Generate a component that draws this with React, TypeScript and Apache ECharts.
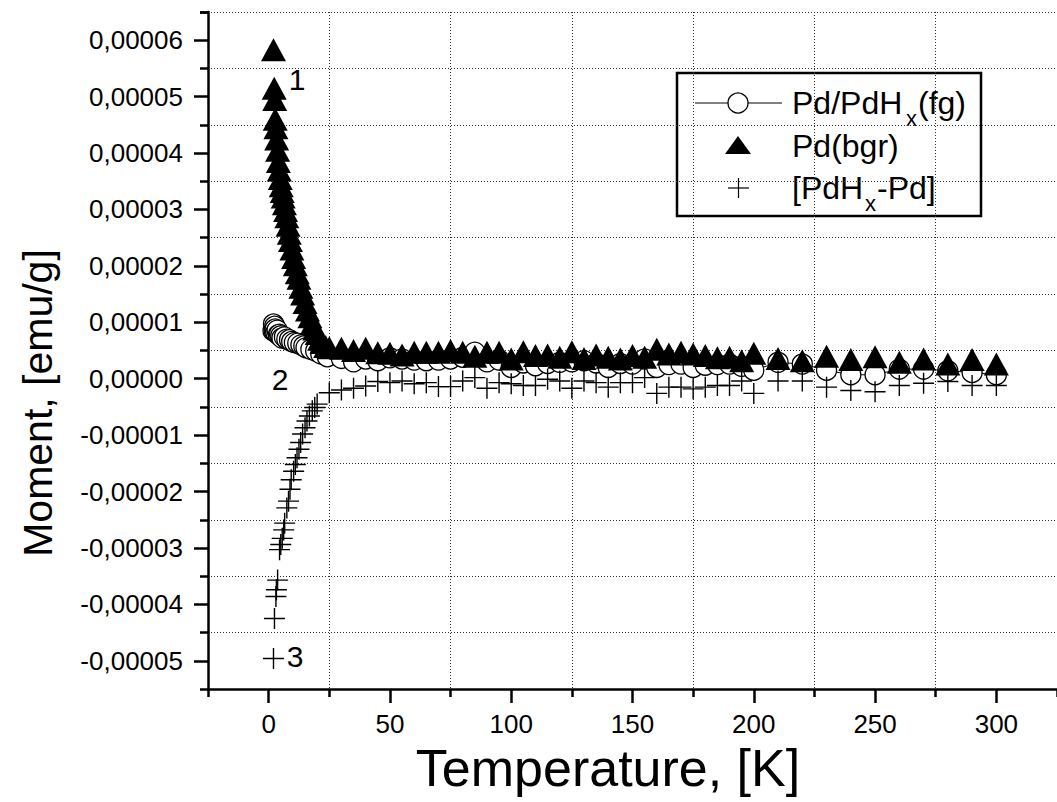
import React, { useEffect, useRef } from "react";
import * as echarts from "echarts";

const UNIT = 1e-5; // moment values below are given in units of 1e-5 emu/g
const FONT = "'Liberation Sans', Arial, sans-serif";

// Pd/PdHx(fg) — open circles with line
const fgT = [1.8, 2.0, 2.3, 2.5, 2.7, 3.0, 3.5, 4.0, 4.5, 5.0, 5.5, 6.5, 7.5, 8.6, 9.5, 10.6, 12.0, 13.3, 14.5, 15.4, 17.4, 19.4, 21.5, 24.2,
  30, 35, 40, 45, 50, 55, 60, 65, 70, 75, 80, 85, 90, 95, 100, 105, 110, 115, 120, 125, 130, 135, 140, 145, 150, 155, 160, 165, 170, 175, 180, 185, 190, 195, 200,
  210, 220, 230, 240, 250, 260, 270, 280, 290, 300];
const fgM = [0.85, 0.97, 0.85, 0.93, 0.88, 0.82, 0.86, 0.78, 0.79, 0.76, 0.72, 0.74, 0.70, 0.69, 0.66, 0.64, 0.63, 0.60, 0.58, 0.55, 0.52, 0.49, 0.44, 0.39,
  0.36, 0.30, 0.35, 0.32, 0.37, 0.35, 0.33, 0.32, 0.33, 0.35, 0.38, 0.47, 0.30, 0.33, 0.20, 0.28, 0.23, 0.27, 0.29, 0.30, 0.32, 0.28, 0.20, 0.27, 0.26, 0.35, 0.20, 0.25, 0.26, 0.20, 0.24, 0.25, 0.26, 0.22, 0.15,
  0.29, 0.26, 0.15, 0.07, 0.07, 0.17, 0.17, 0.14, 0.11, 0.07];

// Pd(bgr) — filled triangles
const bgrT = [2.0, 2.3, 2.5, 2.7, 3.0, 3.3, 3.7, 4.0, 4.4, 4.8, 5.2, 5.6, 6.0, 6.5, 7.0, 7.5, 8.0, 8.5, 9.0, 9.6, 10.3, 11.0, 11.8, 12.5, 13.3, 14.0, 15.0, 16.0, 17.0, 18.0, 19.0, 20.0, 21.0, 22.0, 23.5,
  25, 30, 35, 40, 45, 50, 55, 60, 65, 70, 75, 80, 85, 90, 95, 100, 105, 110, 115, 120, 125, 130, 135, 140, 145, 150, 155, 160, 165, 170, 175, 180, 185, 190, 195, 200,
  210, 220, 230, 240, 250, 260, 270, 280, 290, 300];
const bgrM = [5.83, 5.15, 4.95, 4.6, 4.45, 4.25, 4.05, 3.85, 3.7, 3.55, 3.42, 3.32, 3.22, 3.1, 2.98, 2.87, 2.72, 2.58, 2.45, 2.3, 2.15, 2.02, 1.88, 1.78, 1.62, 1.5, 1.35, 1.22, 1.1, 0.98, 0.88, 0.8, 0.7, 0.64, 0.57,
  0.55, 0.54, 0.50, 0.54, 0.46, 0.45, 0.42, 0.47, 0.47, 0.47, 0.50, 0.47, 0.40, 0.47, 0.47, 0.35, 0.48, 0.41, 0.42, 0.38, 0.48, 0.36, 0.42, 0.38, 0.35, 0.41, 0.38, 0.52, 0.44, 0.47, 0.44, 0.41, 0.37, 0.38, 0.32, 0.45,
  0.36, 0.32, 0.40, 0.34, 0.39, 0.29, 0.35, 0.26, 0.34, 0.26];

// [PdHx-Pd] — crosses
const diffT = [2.0, 2.4, 3.0, 3.2, 3.7, 4.5, 5.0, 5.6, 6.2, 6.6, 7.5, 8.2, 8.8, 9.3, 10.3, 11.0, 11.7, 12.5, 13.2, 14.0, 15.0, 15.8, 16.8, 18.0, 19.0, 20.0,
  25, 30, 35, 40, 45, 50, 55, 60, 65, 70, 75, 80, 85, 90, 95, 100, 105, 110, 115, 120, 125, 130, 135, 140, 145, 150, 155, 160, 165, 170, 175, 180, 185, 190, 195, 200,
  210, 220, 230, 240, 250, 260, 270, 280, 290, 300];
const diffM = [-4.96, -4.25, -3.86, -3.74, -3.57, -3.03, -2.94, -2.83, -2.68, -2.56, -2.29, -2.17, -1.96, -1.79, -1.64, -1.52, -1.40, -1.25, -1.13, -0.98, -0.87, -0.75, -0.66, -0.57, -0.51, -0.45,
  -0.25, -0.20, -0.17, -0.13, -0.05, -0.07, -0.04, -0.09, -0.07, -0.14, -0.14, -0.04, 0.02, -0.17, -0.07, -0.09, -0.12, -0.12, -0.01, -0.04, -0.17, -0.04, -0.07, -0.15, -0.07, -0.07, 0.02, -0.26, -0.15, -0.15, -0.18, -0.15, -0.12, -0.12, -0.04, -0.26,
  -0.04, -0.04, -0.15, -0.21, -0.23, -0.12, -0.08, -0.05, -0.12, -0.12];

const xLabelTicks = [0, 50, 100, 150, 200, 250, 300];
const yLabelTicks = [-5, -4, -3, -2, -1, 0, 1, 2, 3, 4, 5, 6];

const pairs = (xs: number[], ys: number[]) => xs.map((x, i) => [x, ys[i] * UNIT]);

export default function App() {
  const ref = useRef<HTMLDivElement>(null);
  useEffect(() => {
    if (!ref.current) return;
    const chart = echarts.init(ref.current, undefined, { renderer: "svg" });
    const axisLineStyle = { color: "#000", width: 2.5, opacity: 1 };
    const gridStyle = { color: "#333", width: 1, type: [1, 2] as any };
    const yMin = -5.5 * UNIT;
    const yMax = 6.5 * UNIT;
    chart.setOption({
      animation: false,
      backgroundColor: "#fff",
      grid: { left: 208, right: -9, top: 12, bottom: 113, containLabel: false },
      xAxis: [
        {
          type: "value", min: -25, max: 325, position: "bottom",
          axisLine: { show: true, onZero: false, lineStyle: axisLineStyle },
          axisTick: { show: true, customValues: xLabelTicks, length: 14, lineStyle: axisLineStyle },
          axisLabel: { customValues: xLabelTicks, margin: 22, fontSize: 26, color: "#000", fontFamily: FONT },
          splitLine: { show: false },
        },
        {
          type: "value", min: -25, max: 325, interval: 50, position: "bottom",
          axisLine: { show: false, onZero: false },
          axisTick: { show: true, length: 8, lineStyle: axisLineStyle },
          axisLabel: { show: false },
          splitLine: { show: true, showMinLine: false, showMaxLine: false, lineStyle: gridStyle },
        },
      ],
      yAxis: [
        {
          type: "value", min: yMin, max: yMax, position: "left",
          axisLine: { show: true, onZero: false, lineStyle: axisLineStyle },
          axisTick: { show: true, customValues: yLabelTicks.map((v) => v * UNIT), length: 14, lineStyle: axisLineStyle },
          axisLabel: {
            customValues: yLabelTicks.map((v) => v * UNIT), margin: 25, fontSize: 26, color: "#000", fontFamily: FONT,
            formatter: (v: number) => v.toFixed(5).replace(".", ","),
          },
          splitLine: { show: false },
        },
        {
          type: "value", min: yMin, max: yMax, interval: 1 * UNIT, position: "left",
          axisLine: { show: false, onZero: false },
          axisTick: { show: true, length: 8, lineStyle: axisLineStyle },
          axisLabel: { show: false },
          splitLine: { show: true, showMinLine: false, showMaxLine: false, lineStyle: gridStyle },
        },
      ],
      series: [
        {
          name: "Pd/PdHx(fg)", type: "line", data: pairs(fgT, fgM), xAxisIndex: 0, yAxisIndex: 0,
          symbol: "circle", symbolSize: 20, showSymbol: true,
          itemStyle: { color: "#fff", borderColor: "#000", borderWidth: 1.3, opacity: 1 },
          lineStyle: { color: "#000", width: 1 }, z: 2,
        },
        {
          name: "Pd(bgr)", type: "scatter", data: pairs(bgrT, bgrM), xAxisIndex: 0, yAxisIndex: 0,
          symbol: "triangle", symbolSize: [25, 23],
          itemStyle: { color: "#000", opacity: 1 }, z: 3,
        },
        {
          name: "[PdHx-Pd]", type: "scatter", data: pairs(diffT, diffM), xAxisIndex: 0, yAxisIndex: 0,
          symbol: "path://M10 0V20M0 10H20", symbolSize: 21,
          itemStyle: { color: "none", borderColor: "#000", borderWidth: 1.4, opacity: 1 }, z: 4,
        },
      ],
      graphic: [
        { type: "text", x: 38, y: 403, rotation: Math.PI / 2, style: { text: "Moment, [emu/g]", fontSize: 41, fontFamily: FONT, fill: "#000", align: "center", verticalAlign: "middle" } },
        { type: "text", x: 608, y: 768, style: { text: "Temperature, [K]", fontSize: 52, fontFamily: FONT, fill: "#000", align: "center", verticalAlign: "middle" } },
        { type: "text", x: 297, y: 79, style: { text: "1", fontSize: 30, fontFamily: FONT, fill: "#000", align: "center", verticalAlign: "middle" } },
        { type: "text", x: 280, y: 379, style: { text: "2", fontSize: 30, fontFamily: FONT, fill: "#000", align: "center", verticalAlign: "middle" } },
        { type: "text", x: 295, y: 656, style: { text: "3", fontSize: 30, fontFamily: FONT, fill: "#000", align: "center", verticalAlign: "middle" } },
        {
          type: "group", z: 100,
          children: [
            { type: "rect", shape: { x: 677, y: 73, width: 304, height: 143 }, style: { fill: "#fff", stroke: "#000", lineWidth: 2.5 } },
            { type: "line", shape: { x1: 695, y1: 103, x2: 782, y2: 103 }, style: { stroke: "#000", lineWidth: 1 } },
            { type: "circle", shape: { cx: 738, cy: 103, r: 10 }, style: { fill: "#fff", stroke: "#000", lineWidth: 1.3 } },
            { type: "polygon", shape: { points: [[725, 154], [751, 154], [738, 136]] }, style: { fill: "#000" } },
            { type: "line", shape: { x1: 728, y1: 188, x2: 749, y2: 188 }, style: { stroke: "#000", lineWidth: 1.2 } },
            { type: "line", shape: { x1: 738.5, y1: 178, x2: 738.5, y2: 198 }, style: { stroke: "#000", lineWidth: 1.2 } },
            { type: "text", x: 792, y: 103, style: { text: "Pd/PdH", fontSize: 32, fontFamily: FONT, fill: "#000", align: "left", verticalAlign: "middle" } },
            { type: "text", x: 906, y: 118, style: { text: "x", fontSize: 22, fontFamily: FONT, fill: "#000", align: "left", verticalAlign: "middle" } },
            { type: "text", x: 918, y: 103, style: { text: "(fg)", fontSize: 32, fontFamily: FONT, fill: "#000", align: "left", verticalAlign: "middle" } },
            { type: "text", x: 792, y: 146, style: { text: "Pd(bgr)", fontSize: 32, fontFamily: FONT, fill: "#000", align: "left", verticalAlign: "middle" } },
            { type: "text", x: 792, y: 188, style: { text: "[PdH", fontSize: 32, fontFamily: FONT, fill: "#000", align: "left", verticalAlign: "middle" } },
            { type: "text", x: 865, y: 203, style: { text: "x", fontSize: 22, fontFamily: FONT, fill: "#000", align: "left", verticalAlign: "middle" } },
            { type: "text", x: 877, y: 188, style: { text: "-Pd]", fontSize: 32, fontFamily: FONT, fill: "#000", align: "left", verticalAlign: "middle" } },
          ],
        },
      ],
    });
    return () => chart.dispose();
  }, []);
  return <div ref={ref} style={{ position: "absolute", left: 0, top: 0, width: 1057, height: 802 }} />;
}
